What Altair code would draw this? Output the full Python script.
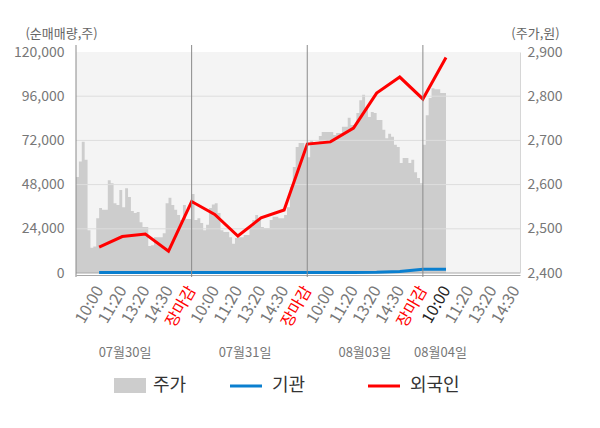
import json
import altair as alt
import pandas as pd

FONT = "Noto Sans CJK KR"

# ---- data ----
tick_labels = ["10:00", "11:20", "13:20", "14:30", "장마감",
               "10:00", "11:20", "13:20", "14:30", "장마감",
               "10:00", "11:20", "13:20", "14:30", "장마감",
               "10:00", "11:20", "13:20", "14:30"]
tick_pos = list(range(1, 20))

slots = list(range(1, 17))
foreign = [14100, 19800, 21200, 11900, 38800, 31800, 20100, 29900, 34200,
           70000, 71200, 78700, 97700, 106400, 94500, 117000]
institution = [300, 300, 300, 300, 300, 300, 300, 300, 300, 300, 300, 300,
               400, 800, 2000, 2000]

price = [2617, 2652, 2697, 2656, 2497, 2457, 2460, 2524, 2547, 2543,
         2543, 2610, 2603, 2558, 2554, 2588, 2549, 2592, 2572, 2540,
         2536, 2538, 2515, 2504, 2504, 2461, 2463, 2481, 2481, 2481,
         2490, 2558, 2570, 2554, 2543, 2531, 2520, 2554, 2522, 2522,
         2579, 2520, 2524, 2513, 2497, 2509, 2547, 2555, 2558, 2536,
         2497, 2493, 2493, 2481, 2466, 2479, 2481, 2481, 2486, 2486,
         2504, 2520, 2531, 2520, 2504, 2502, 2502, 2520, 2527, 2527,
         2524, 2524, 2531, 2549, 2595, 2640, 2685, 2694, 2694, 2678,
         2662, 2701, 2694, 2694, 2710, 2719, 2719, 2719, 2719, 2712,
         2717, 2717, 2731, 2731, 2751, 2735, 2735, 2762, 2791, 2803,
         2773, 2753, 2764, 2762, 2746, 2746, 2724, 2705, 2715, 2708,
         2690, 2685, 2649, 2660, 2660, 2649, 2656, 2628, 2615, 2603,
         2690, 2757, 2796, 2818, 2816, 2816, 2807, 2807, 2807]
price_t = [k / 8 for k in range(len(price))]

day_breaks = [0, 5, 10, 15]
dates = ["07월30일", "07월31일", "08월03일", "08월04일"]
date_pos = [2.12, 7.31, 12.49, 15.76]

vol_ticks = [0, 24000, 48000, 72000, 96000, 120000]
vol_grid = [24000, 48000, 72000, 96000]
price_ticks = [2400, 2500, 2600, 2700, 2800, 2900]

legend_labels = ["주가", "기관", "외국인"]

# ---- tables ----
price_df = pd.DataFrame({"t": price_t, "p": price})
lines_df = pd.DataFrame({
    "t": slots + slots,
    "v": institution + foreign,
    "s": ["기관"] * len(slots) + ["외국인"] * len(slots),
})
breaks_df = pd.DataFrame({"t": day_breaks})
grid_df = pd.DataFrame({"v": vol_grid})
dates_df = pd.DataFrame({"t": date_pos, "d": dates})

xscale = alt.Scale(domain=[0, 19.2], nice=False, zero=False)
label_expr = json.dumps([""] + tick_labels, ensure_ascii=False) + "[datum.value]"
xaxis = alt.Axis(
    values=tick_pos, labelExpr=label_expr, title=None, grid=False, ticks=False,
    domainColor="#a8a8a8", offset=2, labelAngle=-60, labelAlign="right",
    labelBaseline="middle", labelPadding=12, labelFontSize=16, labelFont=FONT,
    labelOverlap=False, labelFlush=False,
    labelColor={"condition": [{"test": "datum.value % 5 === 0", "value": "#ff0000"},
                              {"test": "datum.value === 16", "value": "#222222"}],
                "value": "#777777"},
)
X = alt.X("t:Q", scale=xscale, axis=xaxis)

area = alt.Chart(price_df).mark_area(color="#cdcdcd", interpolate="step-after").encode(
    x=X,
    y=alt.Y("p:Q", scale=alt.Scale(domain=[2400, 2900], nice=False, zero=False),
            axis=alt.Axis(orient="right", values=price_ticks, format=",d", grid=False,
                          ticks=False, labelPadding=7, domainColor="#d6d6d6",
                          labelColor="#777777", labelFontSize=14, labelFont=FONT,
                          title="(주가,원)", titleAngle=0, titleX=15, titleY=-19,
                          titleAlign="center", titleBaseline="middle",
                          titleColor="#666666", titleFontSize=13,
                          titleFontWeight="normal", titleFont=FONT)),
    y2=alt.datum(2400),
)

grid = alt.Chart(grid_df).mark_rule(color="#dddddd", strokeWidth=1).encode(
    y=alt.Y("v:Q", scale=alt.Scale(domain=[0, 120000], nice=False), axis=None)
)
zero_line = alt.Chart(pd.DataFrame({"v": [0]})).mark_rule(color="#a8a8a8", strokeWidth=1).encode(
    y=alt.Y("v:Q", scale=alt.Scale(domain=[0, 120000], nice=False), axis=None)
)

lines = alt.Chart(lines_df).mark_line(strokeWidth=3).encode(
    x=X,
    y=alt.Y("v:Q", scale=alt.Scale(domain=[0, 120000], nice=False),
            axis=alt.Axis(orient="left", values=vol_ticks, format=",d", grid=False,
                          ticks=False, domain=False, labelPadding=12,
                          labelColor="#777777", labelFontSize=14, labelFont=FONT,
                          title="(순매매량,주)", titleAngle=0, titleX=-15, titleY=-19,
                          titleAlign="center", titleBaseline="middle",
                          titleColor="#666666", titleFontSize=13,
                          titleFontWeight="normal", titleFont=FONT)),
    color=alt.Color("s:N", scale=alt.Scale(domain=["기관", "외국인"],
                                           range=["#0a7fcf", "#ff0000"]), legend=None),
    detail="s:N",
)

seps = alt.Chart(breaks_df).mark_rule(color="#8a8a8a", strokeWidth=1).encode(
    x=X, y=alt.value(-7), y2=alt.value(225)
)

date_text = alt.Chart(dates_df).mark_text(
    font=FONT, fontSize=13, color="#777777", baseline="middle", align="center"
).encode(x=X, y=alt.value(301), text="d:N")

leg_rect = alt.Chart(pd.DataFrame({"n": [legend_labels[0]]})).mark_rect(color="#cdcdcd").encode(
    x=alt.value(38), x2=alt.value(70), y=alt.value(326), y2=alt.value(341)
)
leg_blue = alt.Chart(pd.DataFrame({"n": [legend_labels[1]]})).mark_rule(
    color="#0a7fcf", strokeWidth=3).encode(
    x=alt.value(154), x2=alt.value(186), y=alt.value(334)
)
leg_red = alt.Chart(pd.DataFrame({"n": [legend_labels[2]]})).mark_rule(
    color="#ff0000", strokeWidth=3).encode(
    x=alt.value(292), x2=alt.value(324), y=alt.value(334)
)
leg_t1 = alt.Chart(pd.DataFrame({"n": [legend_labels[0]]})).mark_text(
    font=FONT, fontSize=18, color="#333333", align="left", baseline="middle"
).encode(x=alt.value(77), y=alt.value(334), text="n:N")
leg_t2 = alt.Chart(pd.DataFrame({"n": [legend_labels[1]]})).mark_text(
    font=FONT, fontSize=18, color="#333333", align="left", baseline="middle"
).encode(x=alt.value(196), y=alt.value(334), text="n:N")
leg_t3 = alt.Chart(pd.DataFrame({"n": [legend_labels[2]]})).mark_text(
    font=FONT, fontSize=18, color="#333333", align="left", baseline="middle"
).encode(x=alt.value(334), y=alt.value(334), text="n:N")

chart = alt.layer(
    area, grid, zero_line, lines, seps, date_text,
    leg_rect, leg_blue, leg_red, leg_t1, leg_t2, leg_t3,
).resolve_scale(y="independent").properties(
    width=444, height=221,
    padding={"left": 68, "top": 44, "right": 72, "bottom": 147},
    autosize=alt.AutoSizeParams(type="none"),
    background="#ffffff",
).configure_view(fill="#f4f4f4", stroke=None)

chart.save("out.html", embed_options={"renderer": "svg", "actions": False})
